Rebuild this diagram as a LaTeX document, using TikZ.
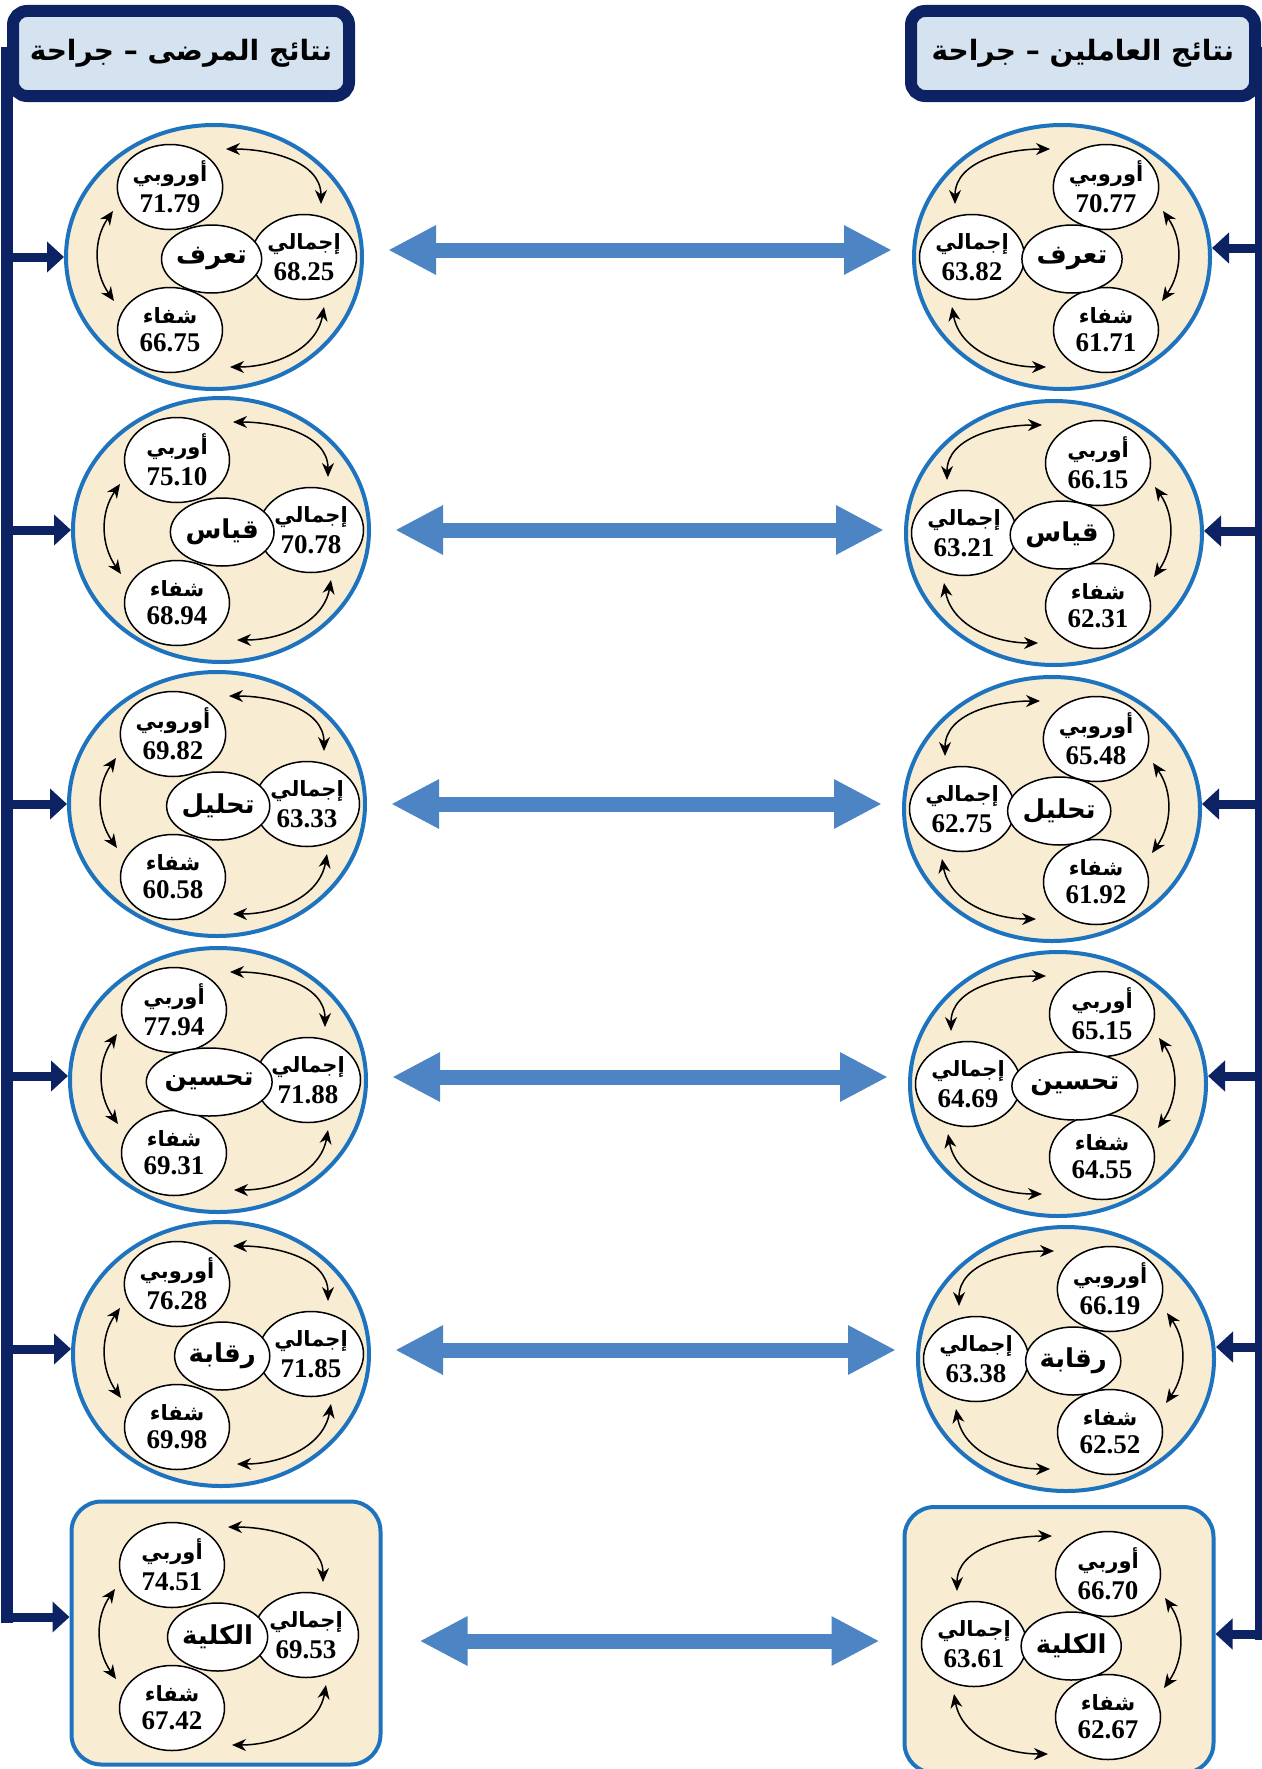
\documentclass[tikz,border=0pt]{standalone}
\usepackage{fontspec}
\setmainfont{Liberation Serif}
\newfontfamily\arabicfont[Script=Arabic]{DejaVu Sans}
\TeXXeTstate=1
\usepackage{tikz}
\usetikzlibrary{arrows.meta,shapes.geometric,calc}
\definecolor{navy}{RGB}{12,34,98}
\definecolor{ringblue}{RGB}{30,115,190}
\definecolor{parch}{RGB}{248,236,211}
\definecolor{headblue}{RGB}{213,226,240}
\definecolor{linkblue}{RGB}{76,132,196}
\newcommand{\ar}[1]{{\arabicfont\bfseries\beginR #1\endR}}
\newcommand{\val}[1]{{\fontsize{27}{27}\selectfont\bfseries #1}}
% one cluster: id, side (-1 left, 1 right), centre, middle word, its width,
% top word, top value, side value, bottom value
\newcommand{\cluster}[9]{%
  \pgfmathsetmacro\tpout{90+90*(#2)}%
  \pgfmathsetmacro\ouout{90-145*(#2)}%
  \pgfmathsetmacro\ouin{90-35*(#2)}%
  \pgfmathsetmacro\btout{270+10*(#2)}%
  \pgfmathsetmacro\btin{90+90*(#2)}%
  \pgfmathsetmacro\midx{4+4*(#2)+0.4*(#2)*(#5-85)}%
  \begin{scope}[shift={#3}]
    \node[item] (#1T) at ({44*(#2)},70) {\ar{#6}\\[7pt]\val{#7}};
    \node[item] (#1S) at ({-90*(#2)},0) {\ar{إجمالي}\\[7pt]\val{#8}};
    \node[item] (#1B) at ({44*(#2)},-73) {\ar{شفاء}\\[7pt]\val{#9}};
    \node[core,minimum width=#5pt] (#1M) at (\midx,-2) {\ar{#4}};
    \coordinate (#1a) at ({-12*(#2)},108);
    \coordinate (#1b) at ({-107*(#2)},53);
    \coordinate (#1c) at ({101*(#2)},46);
    \coordinate (#1d) at ({100*(#2)},-44);
    \coordinate (#1e) at ({-110*(#2)},-50);
    \coordinate (#1f) at ({-16*(#2)},-110);
  \end{scope}
  \draw[cyc] (#1a) to[out=\tpout,in=90] (#1b);
  \draw[cyc] (#1c) to[out=\ouout,in=\ouin] (#1d);
  \draw[cyc] (#1e) to[out=\btout,in=\btin] (#1f);
}

\begin{document}
\begin{tikzpicture}[x=1pt,y=1pt,
  head/.style={draw=navy,line width=12pt,rounded corners=14pt,fill=headblue,
               minimum height=85pt,inner sep=0pt,font=\fontsize{28}{30}\selectfont},
  ring/.style={ellipse,draw=ringblue,line width=4pt,fill=parch,
               minimum width=296pt,minimum height=264pt},
  panel/.style={rectangle,rounded corners=30pt,draw=ringblue,line width=4pt,
               fill=parch,minimum width=309pt,minimum height=263pt},
  item/.style={ellipse,draw,line width=1.5pt,fill=white,minimum width=105pt,
               minimum height=85pt,inner sep=0pt,align=center,
               font=\fontsize{21}{21}\selectfont},
  core/.style={ellipse,draw,line width=1.5pt,fill=white,minimum height=68pt,
               inner sep=0pt,font=\fontsize{26}{28}\selectfont},
  cyc/.style={line width=1.5pt,{Stealth[length=14pt,width=12pt]}-{Stealth[length=14pt,width=12pt]}},
  spine/.style={draw=navy,line width=12pt,line cap=rect},
  feed/.style={draw=navy,line width=9pt,-{Triangle[length=17pt,width=30pt]}},
  link/.style={draw=linkblue,line width=15pt,
               {Triangle[length=48pt,width=46pt]}-{Triangle[length=48pt,width=46pt]}}]
\useasboundingbox (0,0) rectangle (1261,-1769);

% headers
\node[head,minimum width=336pt] (LH) at (181,-53.5) {\ar{نتائج المرضى – جراحة}};
\node[head,minimum width=344pt] (RH) at (1083,-53.5) {\ar{نتائج العاملين – جراحة}};

% frames
\node[ring] (L1) at (214,-257) {};
\node[ring] (L2) at (221,-530) {};
\node[ring] (L3) at (217,-804) {};
\node[ring] (L4) at (218,-1080) {};
\node[ring] (L5) at (221,-1354) {};
\node[panel] (L6) at (226,-1633) {};
\node[ring] (R1) at (1062,-257) {};
\node[ring] (R2) at (1054,-533) {};
\node[ring] (R3) at (1052,-809) {};
\node[ring] (R4) at (1058,-1084) {};
\node[ring] (R5) at (1066,-1359) {};
\node[panel,minimum height=266pt] (R6) at (1059,-1640) {};

% clusters
\cluster{L1}{-1}{(214,-257)}{تعرف}{91}{أوروبي}{71.79}{68.25}{66.75}
\cluster{L2}{-1}{(221,-530)}{قياس}{82}{أوربي}{75.10}{70.78}{68.94}
\cluster{L3}{-1}{(217,-804)}{تحليل}{82}{أوروبي}{69.82}{63.33}{60.58}
\cluster{L4}{-1}{(218,-1080)}{تحسين}{107}{أوربي}{77.94}{71.88}{69.31}
\cluster{L5}{-1}{(221,-1354)}{رقابة}{82}{أوروبي}{76.28}{71.85}{69.98}
\cluster{L6}{-1}{(216,-1635)}{الكلية}{81}{أوربي}{74.51}{69.53}{67.42}
\cluster{R1}{1}{(1062,-257)}{تعرف}{90}{أوروبي}{70.77}{63.82}{61.71}
\cluster{R2}{1}{(1054,-533)}{قياس}{85}{أوربي}{66.15}{63.21}{62.31}
\cluster{R3}{1}{(1052,-809)}{تحليل}{83}{أوروبي}{65.48}{62.75}{61.92}
\cluster{R4}{1}{(1058,-1084)}{تحسين}{107}{أوربي}{65.15}{64.69}{64.55}
\cluster{R5}{1}{(1066,-1359)}{رقابة}{83}{أوروبي}{66.19}{63.38}{62.52}
\cluster{R6}{1}{(1064,-1644)}{الكلية}{83}{أوربي}{66.70}{63.61}{62.67}

% spines and feeds
\coordinate (L6in) at ([yshift=16pt]L6.west);
\coordinate (R6in) at ([yshift=6pt]R6.east);
\draw[spine] (LH.west) -- (LH.west |- L6in);
\draw[spine] (RH.east) -- (RH.east |- R6in);
\foreach \i/\dl/\dr in {1/0/9,2/0/2,3/0/5,4/4/8,5/5/12}{
  \coordinate (L\i in) at ([yshift=\dl pt]L\i.west);
  \coordinate (R\i in) at ([yshift=\dr pt]R\i.east);
  \draw[feed] (LH.west |- L\i in) -- (L\i in);
  \draw[feed] (RH.east |- R\i in) -- (R\i in);
}
\draw[feed] (LH.west |- L6in) -- (L6in);
\draw[feed] (RH.east |- R6in) -- (R6in);

% links
\foreach \i/\d in {1/7,2/0,3/0,4/3,5/4}
  \draw[link,shorten <=24pt,shorten >=20pt]
    ([yshift=\d pt]L\i.east) -- ([yshift=\d pt]L\i.east -| R\i.west);
\draw[link,shorten <=37pt,shorten >=23pt] ([yshift=-8pt]L6.east) -- ([yshift=-8pt]L6.east -| R6.west);
\end{tikzpicture}
\end{document}
